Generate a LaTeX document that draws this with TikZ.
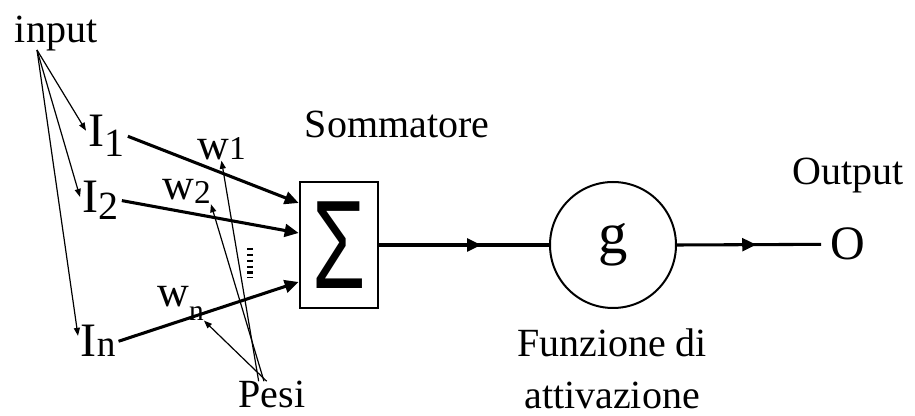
\documentclass[tikz,border=0pt]{standalone}
\usepackage{fontspec}
\usepackage{graphicx}
\setmainfont{Liberation Serif}
\newfontfamily\sigmafont{Liberation Sans}
\usetikzlibrary{positioning, arrows.meta, decorations.markings}
% index set below the letter: size, drop, text
\newcommand{\idx}[3]{\raisebox{#2}{\fontsize{#1}{#1}\selectfont #3}}
\tikzset{
  >={Triangle[length=10.5pt, width=9.5pt]}, % filled arrow heads
  word/.style={font=\fontsize{30}{39}\selectfont, inner sep=0pt}, % plain labels
  letter/.style={font=\fontsize{36}{40}\selectfont, inner sep=0pt, inner xsep=2pt}, % I and O
  weight/.style={font=\fontsize{33}{36}\selectfont, inner sep=0pt}, % the w's
  signal/.style={->, line width=2.3pt}, % thick connectors
  pointer/.style={-{Triangle[length=6pt, width=4.5pt]}, line width=0.9pt}, % thin arrows to the labels
  midarrow/.style={decoration={markings, mark=at position #1 with {\arrow{>}}}, postaction={decorate}},
}

\begin{document}
\begin{tikzpicture}[x=0.75pt, y=-0.75pt]
  \useasboundingbox (0,0) rectangle (915,416);

  \node[word, anchor=base] (input) at (56,43) {input};
  \coordinate (inroot) at (37,50);

  \node[letter, anchor=base west] (i1) at (86,147) {I\idx{30}{-7.5pt}{1}};
  \node[letter, anchor=base west] (i2) at (80,213) {I\idx{30}{-5pt}{2}};
  \node[letter, anchor=base west] (in) at (78,357) {I\idx{28}{0pt}{n}};

  \node[weight, anchor=base west] (w1) at (197,160) {w\idx{25}{0pt}{1}};
  \node[weight, anchor=base west] (w2) at (162,200) {w\idx{25}{-3pt}{2}};
  \node[weight, anchor=base west] (wn) at (157,307) {w\idx{22}{-10pt}{n}};

  \node[draw, line width=2pt, minimum width=58.5pt, minimum height=94.5pt, inner sep=0pt] (sum) at (339,245)
    {\resizebox{40pt}{65pt}{\sigmafont Σ}};
  \node[word, anchor=base] (sumlabel) at (397,138) {Sommatore};

  \node[draw, circle, line width=1.5pt, minimum size=94.5pt, inner sep=0pt,
        font=\fontsize{44}{48}\selectfont] (act) at (613,245) {g};
  \node[word, anchor=north, align=center] (actlabel) at (612,328) {Funzione di\\attivazione};

  \node[letter, anchor=base, inner xsep=7pt] (out) at (848,260) {O};
  \node[word, anchor=base] (outlabel) at (848,185) {Output};

  \node[word, anchor=base] (pesi) at (272,408) {Pesi};

  % inputs
  \draw[pointer] (inroot) -- (i1.165);
  \draw[pointer] (inroot) -- (i2.170);
  \draw[pointer] (inroot) -- (in.165);

  % weighted connections
  \draw[signal] (i1.east) -- ([yshift=31.5pt]sum.west);
  \draw[signal] (i2.east) -- ([yshift=9pt]sum.west);
  \draw[signal] (in.east) -- ([yshift=-27.75pt]sum.west);
  \draw[line width=4.5pt, dash pattern=on 1.8pt off 2.6pt] (250,248) -- (250,278);

  % weights
  \draw[pointer] ([xshift=-10pt]pesi.north) -- (w1.south);
  \draw[pointer] ([xshift=-6pt]pesi.north) -- (w2.south east);
  \draw[pointer] ([xshift=-4pt]pesi.north) -- (wn.south east);

  % sum to activation to output
  \draw[line width=2.3pt, midarrow=0.6] (sum.east) -- (act.west);
  \draw[line width=2.3pt, midarrow=0.55] (act.east) -- (out.west);

\end{tikzpicture}
\end{document}
